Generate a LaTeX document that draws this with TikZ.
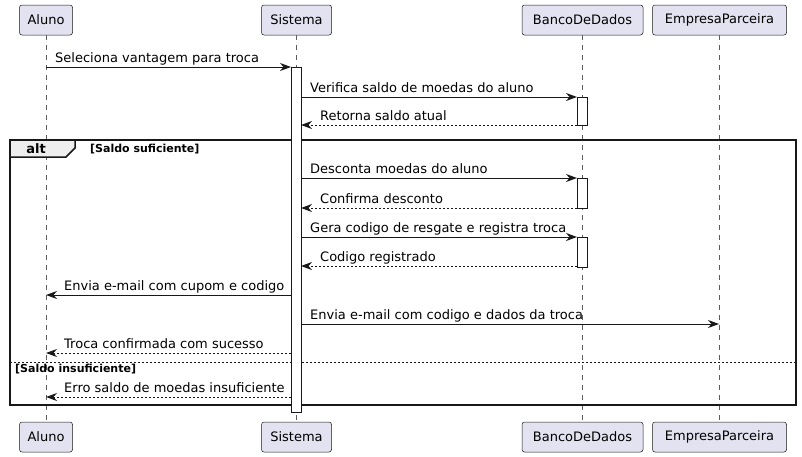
\documentclass[tikz,border=0pt]{standalone}
\usepackage{fontspec}
\setmainfont{DejaVu Sans}
\usetikzlibrary{arrows.meta}
\definecolor{partfill}{HTML}{E2E2F0}
\definecolor{ink}{HTML}{181818}
\definecolor{altfill}{HTML}{EEEEEE}
\begin{document}
\begin{tikzpicture}[x=1pt,y=-1pt,
  part/.style={draw=ink, line width=0.5pt, fill=partfill, rounded corners=2.5pt,
    minimum height=30pt, inner xsep=0pt, inner ysep=0pt, font=\fontsize{13}{15}\selectfont, text=black},
  lifeline/.style={draw=ink!70, line width=0.5pt, dash pattern=on 5pt off 5pt},
  actbox/.style={draw=ink, line width=1pt, fill=white},
  msg/.style={draw=ink, line width=1pt, -{Stealth[length=11pt,width=8pt,inset=3.5pt]}},
  ret/.style={msg, dash pattern=on 2pt off 2pt},
  lbl/.style={font=\fontsize{13}{15}\selectfont, anchor=base west, inner sep=0pt, text=black},
  glbl/.style={font=\bfseries\fontsize{11}{13}\selectfont, anchor=base west, inner sep=0pt, text=black},
  frame/.style={draw=ink, line width=1.5pt}
]
\useasboundingbox (0,0) rectangle (802,456);

% participants
\node[part, minimum width=53pt]  (aluno)  at (46,20) {Aluno};
\node[part, minimum width=70pt]  (sist)   at (296.5,20) {Sistema};
\node[part, minimum width=121pt] (bd)     at (582.5,20) {BancoDeDados};
\node[part, minimum width=134pt] (emp)    at (719.5,20) {EmpresaParceira};
\node[part, minimum width=53pt]  (aluno2) at (46,437) {Aluno};
\node[part, minimum width=70pt]  (sist2)  at (296.5,437) {Sistema};
\node[part, minimum width=121pt] (bd2)    at (582.5,437) {BancoDeDados};
\node[part, minimum width=134pt] (emp2)   at (719.5,437) {EmpresaParceira};

% lifelines
\draw[lifeline] (aluno.south) -- (aluno2.north);
\draw[lifeline] (sist.south) -- (sist2.north);
\draw[lifeline] (bd.south) -- (bd2.north);
\draw[lifeline] (emp.south) -- (emp2.north);

% alt frame
\draw[frame] (10,140) rectangle (796,405);
\draw[frame, fill=altfill] (10,140) -- (75,140) -- (75,148) -- (66,157) -- (10,157) -- cycle;
\node[font=\bfseries\fontsize{13}{15}\selectfont, anchor=base, inner sep=0pt] (altl) at (36,153) {alt};
\node[glbl] (g1) at (90,152) {[Saldo suficiente]};
\draw[draw=ink, line width=1pt, dash pattern=on 2pt off 2pt] (10,362) -- (796,362);
\node[glbl] (g2) at (15,372.5) {[Saldo insuficiente]};

% activations
\node[actbox, minimum width=10pt, minimum height=345pt, inner sep=0pt, anchor=north] (actS) at (296,67) {};
\node[actbox, minimum width=10pt, minimum height=28pt, inner sep=0pt, anchor=north] (actB1) at (582,97) {};
\node[actbox, minimum width=10pt, minimum height=30pt, inner sep=0pt, anchor=north] (actB2) at (582,178) {};
\node[actbox, minimum width=10pt, minimum height=30pt, inner sep=0pt, anchor=north] (actB3) at (582,237) {};

% message endpoints
\coordinate (a1) at (46,67);   \coordinate (s1) at (291,67);
\coordinate (s2) at (301,97);  \coordinate (b2) at (577,97);
\coordinate (b3) at (577,125); \coordinate (s3) at (301,125);
\coordinate (s4) at (301,178); \coordinate (b4) at (577,178);
\coordinate (b5) at (577,208); \coordinate (s5) at (301,208);
\coordinate (s6) at (301,237); \coordinate (b6) at (577,237);
\coordinate (b7) at (577,266); \coordinate (s7) at (301,266);
\coordinate (s8) at (291,295); \coordinate (a8) at (46,295);
\coordinate (s9) at (301,324); \coordinate (e9) at (719,324);
\coordinate (s10) at (291,353); \coordinate (a10) at (46,353);
\coordinate (s11) at (291,397); \coordinate (a11) at (46,397);

% messages
\draw[msg] (a1) -- (s1);
\node[lbl] (t1) at (55,62) {Seleciona vantagem para troca};
\draw[msg] (s2) -- (b2);
\node[lbl] (t2) at (310,92) {Verifica saldo de moedas do aluno};
\draw[ret] (b3) -- (s3);
\node[lbl] (t3) at (320,120) {Retorna saldo atual};
\draw[msg] (s4) -- (b4);
\node[lbl] (t4) at (310,173) {Desconta moedas do aluno};
\draw[ret] (b5) -- (s5);
\node[lbl] (t5) at (320,203) {Confirma desconto};
\draw[msg] (s6) -- (b6);
\node[lbl] (t6) at (310,232) {Gera codigo de resgate e registra troca};
\draw[ret] (b7) -- (s7);
\node[lbl] (t7) at (320,261) {Codigo registrado};
\draw[msg] (s8) -- (a8);
\node[lbl] (t8) at (64,290) {Envia e-mail com cupom e codigo};
\draw[msg] (s9) -- (e9);
\node[lbl] (t9) at (310,319) {Envia e-mail com codigo e dados da troca};
\draw[ret] (s10) -- (a10);
\node[lbl] (t10) at (64,348) {Troca confirmada com sucesso};
\draw[ret] (s11) -- (a11);
\node[lbl] (t11) at (64,392) {Erro saldo de moedas insuficiente};
\end{tikzpicture}
\end{document}
